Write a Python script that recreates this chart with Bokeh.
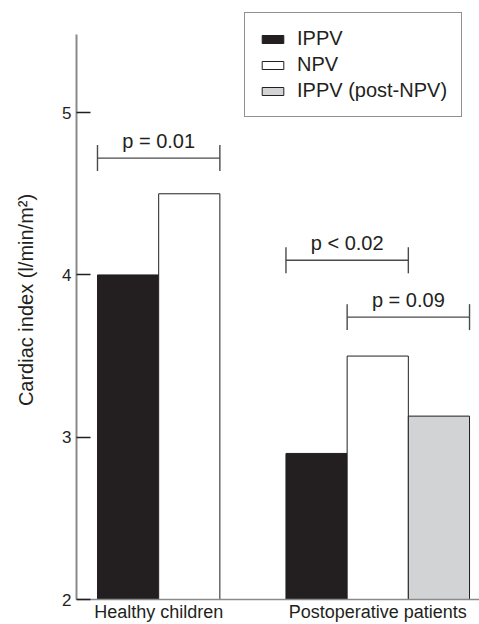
from bokeh.plotting import figure
from bokeh.models import Range1d, FixedTicker, Legend, LegendItem, ColumnDataSource
from bokeh.core.properties import value
from bokeh.embed import file_html
from bokeh.resources import INLINE

# ---- data ----
groups = ["Healthy children", "Postoperative patients"]
series = ["IPPV", "NPV", "IPPV (post-NPV)"]
healthy_values = [4.0, 4.5]            # IPPV, NPV
postop_values = [2.9, 3.5, 3.13]       # IPPV, NPV, IPPV (post-NPV)
y_ticks = [2, 3, 4, 5]

p_labels = ["p = 0.01", "p < 0.02", "p = 0.09"]
p_from = [(0, 0), (1, 0), (1, 1)]      # (group index, series index) of first bar
p_to = [(0, 1), (1, 1), (1, 2)]        # (group index, series index) of last bar
p_heights = [4.72, 4.09, 3.74]

# ---- styles ----
FONT = "Liberation Sans"
INK = "#231f20"
AXIS_GREY = "#8a8a8a"
fills = {"IPPV": INK, "NPV": "#ffffff", "IPPV (post-NPV)": "#d1d3d4"}

group_values = [healthy_values, postop_values]
GAP = 1.08
BAR_W = 1.0

group_start = []
acc = 0.0
for g, vals in enumerate(group_values):
    group_start.append(acc)
    acc += len(vals) * BAR_W + GAP

def bar_center(g, i):
    return group_start[g] + (i + 0.5) * BAR_W

group_centers = [group_start[g] + len(v) * BAR_W / 2 for g, v in enumerate(group_values)]

p = figure(width=479, height=624, output_backend="svg", toolbar_location=None,
           x_range=Range1d(-0.343, 6.243), y_range=Range1d(2, 5.691),
           min_border_left=76, min_border_right=0, min_border_top=0, min_border_bottom=22)
p.outline_line_color = None
p.xgrid.visible = False
p.ygrid.visible = False
p.background_fill_color = "white"

renderers = {}
for si, s in enumerate(series):
    xs, tops = [], []
    for g, vals in enumerate(group_values):
        if si < len(vals):
            xs.append(bar_center(g, si))
            tops.append(vals[si])
    src = ColumnDataSource(dict(x=xs, top=tops))
    r = p.vbar(x="x", top="top", bottom=2, width=BAR_W, source=src,
               fill_color=fills[s], line_color=INK, line_width=1)
    renderers[s] = r

# brackets
hx0, hx1, hy = [], [], []
cx, cy0, cy1 = [], [], []
tx, ty = [], []
CAP = 0.08
for (fg, fi), (tg, ti), h in zip(p_from, p_to, p_heights):
    x0 = bar_center(fg, fi) - BAR_W / 2
    x1 = bar_center(tg, ti) + BAR_W / 2
    hx0.append(x0); hx1.append(x1); hy.append(h)
    for xx in (x0, x1):
        cx.append(xx); cy0.append(h - CAP); cy1.append(h + CAP)
    tx.append((x0 + x1) / 2); ty.append(h)

BR = "#4a4a4a"
p.segment(x0=hx0, y0=hy, x1=hx1, y1=hy, line_color=BR, line_width=1.4)
p.segment(x0=cx, y0=cy0, x1=cx, y1=cy1, line_color=BR, line_width=1.4)
p.text(x=tx, y=ty, text=p_labels, text_font=value(FONT), text_font_size="20px",
       text_color=INK, text_align="center", text_baseline="alphabetic", y_offset=-17)

# axes
ya = p.yaxis[0]
ya.ticker = FixedTicker(ticks=y_ticks)
ya.bounds = (2, 5.48)
ya.axis_line_color = AXIS_GREY
ya.axis_line_width = 2
ya.major_tick_in = 14
ya.major_tick_out = 0
ya.major_tick_line_color = INK
ya.major_tick_line_width = 1.5
ya.minor_tick_line_color = None
ya.major_label_text_font = FONT
ya.major_label_text_font_size = "17px"
ya.major_label_text_color = INK
ya.major_label_standoff = 5
ya.axis_label = "Cardiac index (l/min/m\u00b2)"
ya.axis_label_text_font = FONT
ya.axis_label_text_font_style = "normal"
ya.axis_label_text_font_size = "20px"
ya.axis_label_text_color = INK
ya.axis_label_standoff = 22

xa = p.xaxis[0]
xa.ticker = FixedTicker(ticks=group_centers)
xa.major_label_overrides = {c: name for c, name in zip(group_centers, groups)}
xa.major_tick_in = 0
xa.major_tick_out = 0
xa.minor_tick_line_color = None
xa.axis_line_color = AXIS_GREY
xa.axis_line_width = 1.5
xa.major_label_text_font = FONT
xa.major_label_text_font_size = "18px"
xa.major_label_text_color = INK
xa.major_label_standoff = 2

legend = Legend(items=[LegendItem(label=s, renderers=[renderers[s]]) for s in series],
                location=(168, 482), orientation="vertical",
                label_text_font=FONT, label_text_font_size="20px", label_text_color=INK,
                glyph_width=27, glyph_height=10, label_height=22, spacing=3,
                label_standoff=11, padding=14, margin=0,
                border_line_color=INK, border_line_width=1,
                background_fill_color="white", background_fill_alpha=1)
p.add_layout(legend, "center")

open("out.html", "w").write(file_html(p, INLINE))
